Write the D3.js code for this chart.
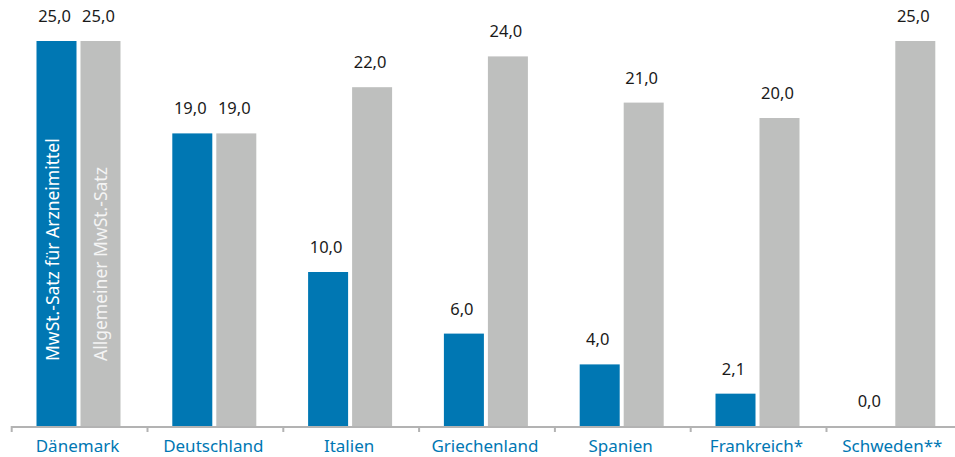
<!DOCTYPE html>
<html><head><meta charset="utf-8">
<script src="https://cdn.jsdelivr.net/npm/d3@7"></script>
<style>
html,body{margin:0;padding:0;background:#fff;}
svg{display:block;font-family:"Noto Sans",sans-serif;}
</style></head>
<body>
<svg id="chart" width="955" height="457"></svg>
<script>
const categories = ["Dänemark","Deutschland","Italien","Griechenland","Spanien","Frankreich*","Schweden**"];
const seriesNames = ["MwSt.-Satz für Arzneimittel","Allgemeiner MwSt.-Satz"];
const arzneimittel = [25.0, 19.0, 10.0, 6.0, 4.0, 2.1, 0.0];
const allgemein = [25.0, 19.0, 22.0, 24.0, 21.0, 20.0, 25.0];
const colors = ["#0077b3", "#bebfbe"];

const svg = d3.select("#chart");
const baseY = 426;
const y = d3.scaleLinear().domain([0, 25]).range([baseY, 41]);
const x = d3.scaleBand().domain(categories).range([11.7, 11.7 + 7 * 135.8]).padding(0);
const xs = d3.scaleBand().domain([0, 1]).range([24.8, 108.8]).paddingInner(0.0909).paddingOuter(0);

const data = categories.map((c, i) => ({c, vals: [arzneimittel[i], allgemein[i]]}));
const fmt = v => v.toFixed(1).replace(".", ",");

const g = svg.append("g");
data.forEach(d => {
  d.vals.forEach((v, k) => {
    const bx = x(d.c) + xs(k);
    g.append("rect")
      .attr("x", bx).attr("y", y(v))
      .attr("width", xs.bandwidth()).attr("height", baseY - y(v))
      .attr("fill", colors[k]);
    g.append("text")
      .attr("x", bx + xs.bandwidth() / 2 - 2)
      .attr("y", y(v) - 19)
      .attr("text-anchor", "middle")
      .attr("font-size", 16.5)
      .attr("fill", "#1a1a1a")
      .text(fmt(v));
  });
});

// legend text inside first pair of bars
const first = categories[0];
seriesNames.forEach((s, k) => {
  const cx = x(first) + xs(k) + xs.bandwidth() / 2;
  g.append("text")
    .attr("transform", `translate(${cx + (k === 0 ? 2 : 7)},361) rotate(-90)`)
    .attr("font-size", 17.5)
    .attr("fill", k === 0 ? "#ffffff" : "#f4f4f4")
    .text(s);
});

// axis
const axis = svg.append("g");
axis.append("line")
  .attr("x1", 11).attr("x2", 955)
  .attr("y1", baseY + 1).attr("y2", baseY + 1)
  .attr("stroke", "#b3b3b3").attr("stroke-width", 2);
categories.forEach(c => {
  axis.append("line")
    .attr("x1", x(c)).attr("x2", x(c))
    .attr("y1", baseY).attr("y2", baseY + 6)
    .attr("stroke", "#b3b3b3").attr("stroke-width", 2);
  axis.append("text")
    .attr("x", x(c) + xs(0) + xs.step() - 3)
    .attr("y", 452)
    .attr("text-anchor", "middle")
    .attr("font-size", 17)
    .attr("fill", "#0077b3")
    .text(c);
});
</script>
</body></html>
